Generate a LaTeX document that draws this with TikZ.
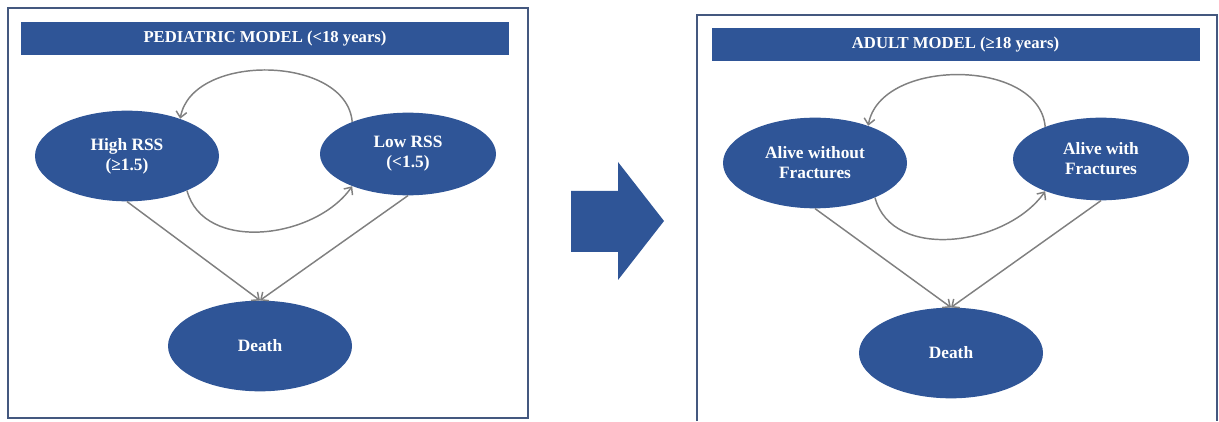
\documentclass[tikz,border=0pt]{standalone}
\usepackage{fontspec}
\setmainfont{Liberation Serif}
\usetikzlibrary{arrows.meta, shapes.geometric}
\definecolor{modelblue}{HTML}{2F5597}
\definecolor{framegray}{HTML}{44587F}
\definecolor{arcgray}{HTML}{808080}

\tikzset{
  statenode/.style={ellipse, fill=modelblue, text=white, inner sep=0pt, align=center,
    minimum width=138pt, minimum height=68pt, font=\fontsize{13}{15}\selectfont\bfseries},
  smallstate/.style={statenode, minimum width=132pt, minimum height=62pt},
  modelhead/.style={fill=modelblue, text=white, inner sep=0pt, minimum width=366pt,
    minimum height=24.75pt, font=\fontsize{12.5}{14}\selectfont\bfseries},
  panel/.style={draw=framegray, line width=1.5pt},
  trans/.style={draw=arcgray, line width=1.1pt, -{Straight Barb[length=4.5pt,width=8pt]}},
}

\begin{document}
\begin{tikzpicture}[x=0.75pt, y=0.75pt]
  \useasboundingbox (0,0) rectangle (1219,421);

  % pediatric
  \draw[panel] (8,3) rectangle (528,413);
  \node[modelhead] (pedhead) at (265,382.5) {PEDIATRIC MODEL (<18 years)};
  \node[statenode] (high) at (127,265) {High RSS\\(≥1.5)};
  \node[smallstate] (low) at (408,267) {Low RSS\\(<1.5)};
  \node[statenode] (peddeath) at (260,75) {Death};
  \draw[trans] (low.150) to[out=95, in=80] (high.35);
  \draw[trans] (high.-30) to[out=-75, in=-125] (low.210);
  \draw[trans] (high.south) -- (peddeath.north);
  \draw[trans] (low.south) -- (peddeath.north);

  \fill[modelblue] (571,230) -- (618,230) -- (618,259) -- (664,200)
    -- (618,141) -- (618,169) -- (571,169) -- cycle;

  % adult
  \draw[panel] (697,0) |- (1217,406) -- (1217,0);
  \node[modelhead] (adulthead) at (955.5,376.5) {ADULT MODEL (≥18 years)};
  \node[statenode] (nofract) at (815,258) {Alive without\\Fractures};
  \node[smallstate] (fract) at (1101,262) {Alive with\\Fractures};
  \node[statenode] (adultdeath) at (951,68) {Death};
  \draw[trans] (fract.150) to[out=95, in=80] (nofract.35);
  \draw[trans] (nofract.-30) to[out=-75, in=-125] (fract.210);
  \draw[trans] (nofract.south) -- (adultdeath.north);
  \draw[trans] (fract.south) -- (adultdeath.north);
\end{tikzpicture}
\end{document}
